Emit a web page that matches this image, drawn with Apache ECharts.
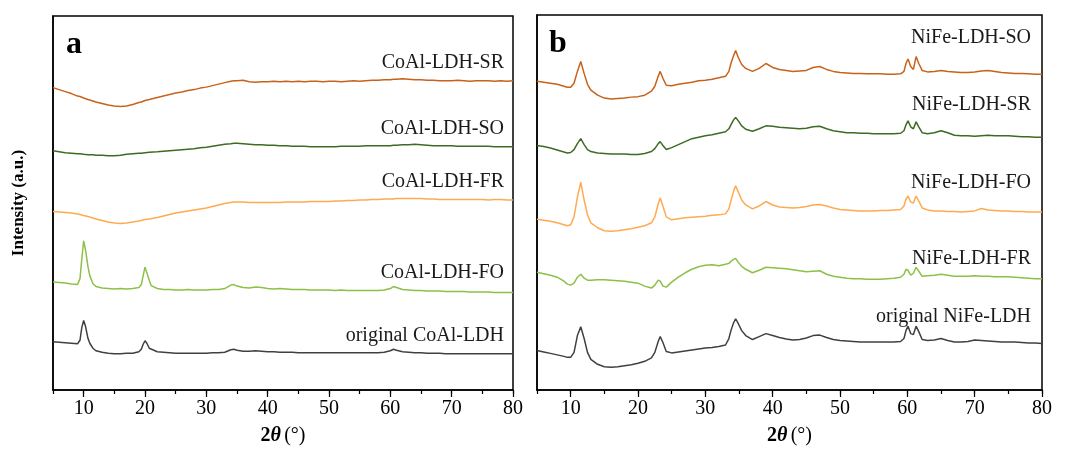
<!DOCTYPE html>
<html>
<head>
<meta charset="utf-8">
<script src="https://cdn.jsdelivr.net/npm/echarts@6/dist/echarts.min.js"></script>
<style>
  html, body { margin: 0; padding: 0; background: #fff; }
  #chart { width: 1065px; height: 451px; }
</style>
</head>
<body>
<div id="chart"></div>
<script>
// 2θ sampling grids (degrees) for the two panels
const thetaA = [5,6,7,8,9,9.4,9.7,10,10.3,10.7,11,11.5,12,13,14,15,16,17,18,19,19.4,19.7,20,20.3,20.7,21,22,23,24,25,26,27,28,29,30,31,32,33,34,34.5,35,36,37,38,39,40,41,42,43,44,45,46,47,48,49,50,51,52,53,54,55,56,57,58,59,60,60.5,61,62,63,64,65,66,67,68,69,70,71,72,73,74,75,76,77,78,79,80];
const thetaB = [5,6,7,8,9,9.5,10,10.5,11,11.5,12,12.5,13,14,15,16,17,18,19,20,21,22,22.5,23,23.3,23.7,24.2,25,26,27,28,29,30,31,32,33,33.5,33.8,34.2,34.5,34.9,35.4,36,37,38,39,40,41,42,43,44,45,46,47,48,49,50,51,52,53,54,55,56,57,58,59,59.5,59.8,60.1,60.5,60.9,61.3,61.7,62.2,63,64,65,66,67,68,69,70,71,72,73,74,75,76,77,78,79,80];

// Panel a: CoAl-LDH patterns (stacked intensities, a.u.)
const coalSR = [304,302,300,298,295.5,295,294.5,293.5,293,292,291.5,290.5,289.5,288,286.5,285.5,285,285.5,287,289,289.5,290,291,291.5,292,292.5,294,295.5,297,298.5,299.5,301,302,303.5,304.5,306,307.5,309,310.5,311,311,311.5,310,309.5,310,310,310.5,310,310.5,310,310.5,310,310.5,310.5,310,310.5,310.5,310,310.5,311,310.5,311,311.5,311.5,312,312,312.5,312.5,313,312.5,312,312,311.5,311.5,311,311,311,311.5,311,310.5,311,311,311,310.5,311,310.5,311];
const coalSO = [240.5,239.5,238.5,238,237.5,237.5,237,237,237,236.5,236.5,236.5,236,236,235.5,235.5,236,237,237.5,238,238,238.5,238.5,238.5,239,239,239.5,240,240.5,241,241.5,242,242.5,243.5,244,245,246,247,247.5,248,248,247.5,247,246.5,246.5,246,246,245.5,245.5,245,245,245,244.5,244.5,244.5,244.5,244.5,245,245,245,245,245.5,245.5,245.5,245.5,245.5,246,246,246.5,246.5,247,246.5,246,245.5,245.5,245.5,245.5,245,245,245,245,245,245,244.5,244.5,244.5,244.5];
const coalFR = [179.5,179,178.5,178,177,176.5,176,175.5,175,174.5,174,173,172,170.5,169,168,167.5,168,169,170,170.5,171,171.5,171.5,172,172.5,173.5,175,176.5,178,179,180,181,182,183,184.5,186,187.5,188.5,189,189,189,188.5,188.5,188.5,188.5,188.5,188.5,189,189,189,189,189.5,189.5,189.5,189.5,190,190,190.5,190.5,191,191,191.5,191.5,192,192,192,192.5,192.5,192.5,192.5,192.5,192,192,191.5,191.5,191.5,191.5,191.5,191.5,191.5,191.5,191,191.5,191.5,191,191];
const coalFO = [108.5,108,107.5,106.5,106,112,132,150,141,124,115,107,104,102.5,102,101.5,102,101.5,102,103,106,115,123.5,118,110,105,102,101,101,100.5,100.5,101,100.5,100.5,100.5,101,101,102,105.5,106,104.5,103,102.5,103.5,103,102,101.5,102,101.5,101,101,101,100.5,100.5,100.5,100.5,100,100.5,100,100,100,100,100,100,100.5,102,104,103,101,100.5,100,100,99.5,99.5,99.5,99,99,99,99,98.5,98.5,98.5,98.5,98,98,98,98];
const coalOrig = [48.5,48,47.5,47,46.5,50,63,70,64,52,47,42,39.5,38,37,36.5,36.5,37,37,38.5,41,46,49.5,47,42,40,38.5,38,37.5,37,37,37,37,37,37,37.5,37.5,38,40.5,41,40,39,39,39.5,39,38.5,38.5,38,38,38,37.5,37.5,37.5,37.5,37.5,37.5,37.5,37.5,37.5,37.5,37.5,37.5,37.5,37.5,38,39.5,41,40,38.5,38,37.5,37.5,37,37,37,36.5,36.5,36.5,36.5,36.5,36.5,36.5,36.5,36.5,36.5,36.5,36.5];

// Panel b: NiFe-LDH patterns (stacked intensities, a.u.)
const nifeSO = [312,311,310,309,307,306,306,310,322,332,320,309,303,298,295,294,294.5,295,296,296.5,298,302,307,317,322,315,308,307.5,309,310,311,312.5,313,314,315.5,317,322,330,338,343,336,329,325,322,325,330,326,324,323,322,322.5,323,326,327,324,322,321,320.5,320,320,319.5,319.5,319.5,319,319,319.5,322,330,334.5,327,324,337,330,323,321.5,322,323,322,321.5,321,321,321.5,322.5,323,322,321,320.5,320,320,319.5,319,319];
const nifeSR = [247,246,244.5,242.5,240.5,239.5,240,243,249,254,248,243,241,239.5,239,238.5,238.5,238.5,238,238,239,241,244,249,251,247,243,245,248,251,254,255.5,257,258,259.5,261,264,268,273,275.5,272,267,263.5,261.5,264,267,266.5,265.5,265,264.5,264,264.5,266,266.5,264,262,261,260,260,259.5,259.5,259,259,259,259,259.5,262,268,272,266,264,271,266,260,259,260,262,260,257.5,257,257,256.5,257,257.5,257,257,257,256.5,256,256,255.5,255.5];
const nifeFO = [172.5,171.5,170.5,169,167,166,167,175,195,210,192,177,169,164,161,160.5,161,162,163,164.5,166,169,175,188,194,186,175,172,173,174,174.5,175,175.5,176.5,177,178,183,191,201,206.5,200,192,187,183,186,190.5,187,185,184.5,184,184.5,185.5,187,187.5,186,184,182.5,182,181.5,181,181,181,181.5,181.5,182,182.5,186,193,196,190,189,196,191,184,182,181,181,180.5,180.5,180,180.5,181,183.5,182,181.5,181,181,180.5,180.5,180,180,180];
const nifeFR = [119,117.5,116,114,110,107,106,108,114,117,113,111,111,111.5,111.5,111,110.5,110,109,108,105,103,106,111,110,105,104,109,114,118.5,122,124.5,126,126.5,125.5,127,128,130,132,133,129,125,122,118.5,121,124,123.5,123,122.5,121.5,120.5,119.5,120,120.5,117,115,114,113,112.5,112.5,112,112,112,112.5,113,114,117,122,121,116,118,124,120,115,115.5,116,117,116,115,115,115,115.5,115,115,114.5,114.5,114.5,114,113.5,113,112.5,112.5];
const nifeOrig = [40,38.5,37,35.5,34,33,33,38,55,64,52,38,31,26,23.5,23,23.5,24.5,25.5,27,29,32.5,38,49,54,48,39,37.5,38.5,39.5,40.5,41.5,42.5,43,44,45.5,52,60,68,72,67,60,55,51,54,57,55,53,51.5,50.5,51,52.5,55,55.5,53,51,50,49.5,49,48.5,48.5,48.5,48.5,48.5,48.5,49,52,60,64.5,57,56,64.5,59,51,50,50.5,52,50,48.5,48.5,49,50.5,50,49.5,49,48.5,48.5,48.5,48,47.5,47.5,47];

// Tick label values on the 2θ axes
const majorTicks = [10,20,30,40,50,60,70,80];

// Curve names, colours and label anchors
const namesA = ['CoAl-LDH-SR','CoAl-LDH-SO','CoAl-LDH-FR','CoAl-LDH-FO','original CoAl-LDH'];
const namesB = ['NiFe-LDH-SO','NiFe-LDH-SR','NiFe-LDH-FO','NiFe-LDH-FR','original NiFe-LDH'];
const colorsA = ['#C8621A','#3E6B23','#FFAA50','#8DC047','#404040'];
const colorsB = ['#C8621A','#3E6B23','#FFAA50','#8DC047','#404040'];

const SERIF = '"Liberation Serif", "Times New Roman", serif';

function zip(xs, ys) { return xs.map((x, i) => [x, ys[i]]); }

const chart = echarts.init(document.getElementById('chart'), null, { renderer: 'canvas' });

const grids = [
  { left: 53, top: 16, width: 460, height: 376 },
  { left: 537, top: 15, width: 505, height: 379 }
];

function xAxesFor(gridIndex) {
  return [
    { // minor ticks every 5°
      type: 'value', gridIndex, position: 'bottom', min: 5, max: 80, interval: 5,
      axisLine: { show: true, lineStyle: { color: '#000', width: 1.5 } },
      axisTick: { show: true, inside: false, length: 4, lineStyle: { color: '#000', width: 1.2 } },
      axisLabel: { show: false },
      splitLine: { show: false },
      name: '{b|2}{bi|θ} {r|(°)}',
      nameLocation: 'middle', nameGap: 36,
      nameTextStyle: {
        rich: {
          b: { fontFamily: SERIF, fontSize: 20, fontWeight: 'bold', color: '#000' },
          bi: { fontFamily: SERIF, fontSize: 20, fontWeight: 'bold', fontStyle: 'italic', color: '#000' },
          r: { fontFamily: SERIF, fontSize: 20, color: '#000' }
        }
      }
    },
    { // labelled major ticks every 10°
      type: 'value', gridIndex, position: 'bottom', offset: 0, min: 5, max: 80, interval: 5,
      axisLine: { show: false },
      axisTick: { show: true, inside: false, length: 7, customValues: majorTicks, lineStyle: { color: '#000', width: 1.2 } },
      axisLabel: { show: true, customValues: majorTicks, margin: 9, fontFamily: SERIF, fontSize: 20, color: '#000' },
      splitLine: { show: false }
    }
  ];
}

const xAxis = [...xAxesFor(0), ...xAxesFor(1)];
const yAxis = [
  {
    type: 'value', gridIndex: 0, min: 0, max: 376,
    axisLine: { show: true, lineStyle: { color: '#000', width: 1.5 } },
    axisTick: { show: false }, axisLabel: { show: false }, splitLine: { show: false },
    name: 'Intensity (a.u.)', nameLocation: 'middle', nameGap: 26,
    nameTextStyle: { fontFamily: SERIF, fontSize: 17, fontWeight: 'bold', color: '#000' }
  },
  {
    type: 'value', gridIndex: 1, min: 0, max: 379,
    axisLine: { show: true, lineStyle: { color: '#000', width: 1.5 } },
    axisTick: { show: false }, axisLabel: { show: false }, splitLine: { show: false }
  }
];

const seriesA = [coalSR, coalSO, coalFR, coalFO, coalOrig];
const seriesB = [nifeSO, nifeSR, nifeFO, nifeFR, nifeOrig];

const series = [];
seriesA.forEach((vals, i) => series.push({
  name: namesA[i], type: 'line', xAxisIndex: 0, yAxisIndex: 0,
  data: zip(thetaA, vals), showSymbol: false, symbol: 'none', silent: true,
  lineStyle: { color: colorsA[i], width: 1.5 }
}));
seriesB.forEach((vals, i) => series.push({
  name: namesB[i], type: 'line', xAxisIndex: 2, yAxisIndex: 1,
  data: zip(thetaB, vals), showSymbol: false, symbol: 'none', silent: true,
  lineStyle: { color: colorsB[i], width: 1.5 }
}));

// Curve labels (right-aligned inside each panel) and panel letters
const labelYA = [63, 129, 182, 273, 336];
const labelYB = [38, 105, 183, 259, 317];
const graphic = [];
namesA.forEach((n, i) => graphic.push({
  type: 'text', x: 504, y: labelYA[i],
  style: { text: n, fontFamily: SERIF, fontSize: 20, fill: '#1a1a1a', align: 'right', verticalAlign: 'middle' }
}));
namesB.forEach((n, i) => graphic.push({
  type: 'text', x: 1031, y: labelYB[i],
  style: { text: n, fontFamily: SERIF, fontSize: 20, fill: '#1a1a1a', align: 'right', verticalAlign: 'middle' }
}));
graphic.push({ type: 'text', x: 66, y: 45, style: { text: 'a', fontFamily: SERIF, fontSize: 32, fontWeight: 'bold', fill: '#000', align: 'left', verticalAlign: 'middle' } });
graphic.push({ type: 'text', x: 549, y: 44, style: { text: 'b', fontFamily: SERIF, fontSize: 32, fontWeight: 'bold', fill: '#000', align: 'left', verticalAlign: 'middle' } });

chart.setOption({
  backgroundColor: '#fff',
  animation: false,
  grid: grids.map(g => Object.assign({ show: true, borderColor: '#000', borderWidth: 1.5, backgroundColor: 'transparent' }, g)),
  xAxis, yAxis, series, graphic
});
</script>
</body>
</html>
